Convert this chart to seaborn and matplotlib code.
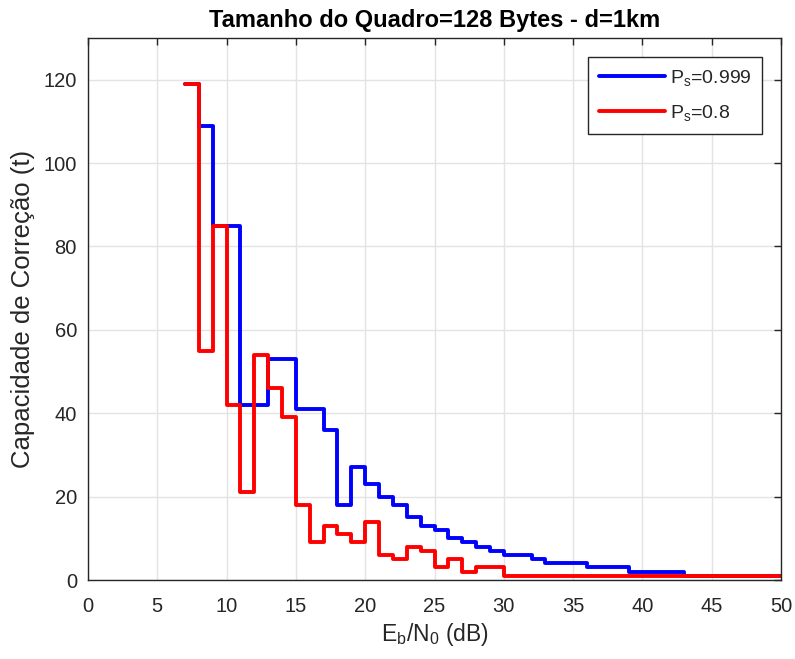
import numpy as np
import pandas as pd
import matplotlib
matplotlib.use("Agg")
import matplotlib.pyplot as plt
import seaborn as sns

# Eb/N0 grid (dB) and the correction capacity t for each target success probability
ebn0 = list(range(7, 51))
t_ps_0999 = [119, 109, 85, 85, 42, 42, 53, 53, 41, 41, 36, 18, 27, 23, 20, 18,
             15, 13, 12, 10, 9, 8, 7, 6, 6, 5, 4, 4, 4, 3, 3, 3, 2, 2, 2, 2,
             1, 1, 1, 1, 1, 1, 1, 1]
t_ps_08 = [119, 55, 85, 42, 21, 54, 46, 39, 18, 9, 13, 11, 9, 14, 6, 5,
           8, 7, 3, 5, 2, 3, 3, 1, 1, 1, 1, 1, 1, 1, 1, 1, 1, 1, 1, 1,
           1, 1, 1, 1, 1, 1, 1, 1]
series_labels = [r"P$_\mathregular{s}$=0.999", r"P$_\mathregular{s}$=0.8"]
series_colors = ["#0000ff", "#ff0000"]

sns.set_style("white")
plt.rcParams["font.family"] = ["Liberation Sans", "DejaVu Sans"]
plt.rcParams["mathtext.fontset"] = "custom"
plt.rcParams["mathtext.rm"] = "Liberation Sans"
plt.rcParams["mathtext.it"] = "Liberation Sans:italic"

df = pd.concat([
    pd.DataFrame({"x": ebn0, "t": t_ps_0999, "serie": series_labels[0]}),
    pd.DataFrame({"x": ebn0, "t": t_ps_08, "serie": series_labels[1]}),
])

fig = plt.figure(figsize=(7.95, 6.59), dpi=100)
ax = fig.add_axes([88 / 795, 1 - 580 / 659, (781 - 88) / 795, (580 - 38) / 659])

sns.lineplot(data=df, x="x", y="t", hue="serie", palette=series_colors,
             estimator=None, sort=False, drawstyle="steps-post",
             linewidth=2.8, ax=ax)

ax.set_xlim(0, 50)
ax.set_ylim(0, 130)
ax.set_xticks(np.arange(0, 51, 5))
ax.set_yticks(np.arange(0, 121, 20))
ax.grid(True, color="#e3e3e3", linewidth=1.0)
ax.set_axisbelow(True)

axis_grey = "#262626"
for side in ax.spines.values():
    side.set_color(axis_grey)
    side.set_linewidth(1.0)
ax.tick_params(direction="in", length=5, width=1.0, colors=axis_grey,
               labelsize=14.5, top=True, right=True, labelcolor=axis_grey)
ax.tick_params(axis="x", pad=12)
ax.tick_params(axis="y", pad=8)

ax.set_title("Tamanho do Quadro=128 Bytes - d=1km", fontsize=17,
             fontweight="bold", pad=8, color="black")
ax.set_xlabel(r"E$_\mathregular{b}$/N$_\mathregular{0}$ (dB)", fontsize=16.5,
              color=axis_grey, labelpad=4)
ax.set_ylabel("Capacidade de Correção (t)", fontsize=18.5, color=axis_grey,
              labelpad=6)

leg = ax.legend(loc="upper right", fontsize=14, frameon=True, fancybox=False,
                edgecolor=axis_grey, handlelength=3.4, borderaxespad=0.98,
                labelspacing=0.8, borderpad=0.55, handletextpad=0.25)
leg.get_frame().set_linewidth(1.0)
leg.get_frame().set_alpha(1.0)

fig.savefig("out.png", dpi=100)
